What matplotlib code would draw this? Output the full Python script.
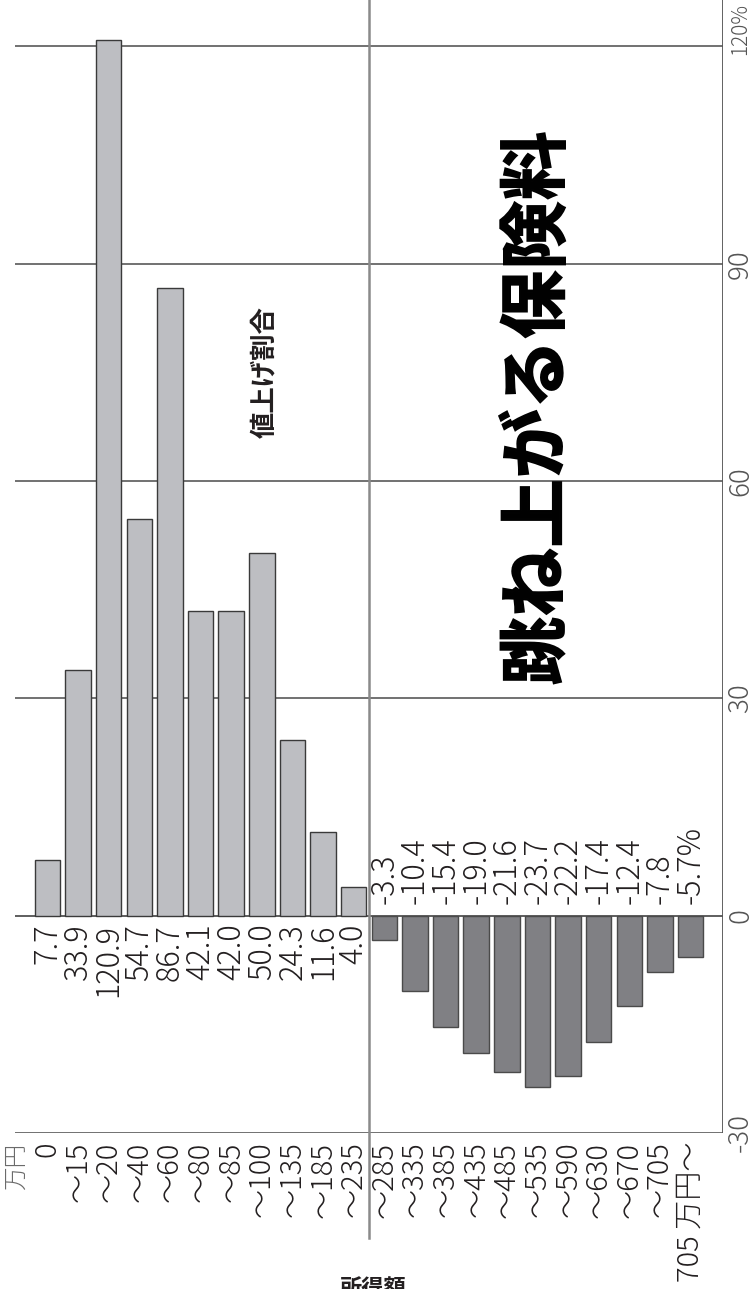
import matplotlib
matplotlib.use('Agg')
import matplotlib.pyplot as plt

plt.rcParams['font.family'] = ['Noto Sans CJK JP', 'DejaVu Sans']

# income brackets (万円) and change in premium (%)
categories = ['0', '〜15', '〜20', '〜40', '〜60', '〜80', '〜85', '〜100', '〜135', '〜185', '〜235',
              '〜285', '〜335', '〜385', '〜435', '〜485', '〜535', '〜590', '〜630', '〜670', '〜705',
              '705 万円〜']
values = [7.7, 33.9, 120.9, 54.7, 86.7, 42.1, 42.0, 50.0, 24.3, 11.6, 4.0,
          -3.3, -10.4, -15.4, -19.0, -21.6, -23.7, -22.2, -17.4, -12.4, -7.8, -5.7]
value_ticks = [-30, 0, 30, 60, 90, 120]
tick_labels = ['-30', '0', '30', '60', '90', '120%']

fig = plt.figure(figsize=(7.56, 12.89), dpi=100)
ax = fig.add_axes([15 / 756, 156 / 1289, 708 / 756, 1133 / 1289])
ax.set_xlim(-1.06, 22.06)
ax.set_ylim(-30, 126.4)
ax.axis('off')

ink = '#231f20'

# grid lines (horizontal in the picture)
for v in value_ticks:
    ax.axhline(v, color='#4a4a4a' if v != 0 else '#333333', lw=1.1, zorder=1)
# right frame and middle divider
ax.axvline(22.06, color='#555555', lw=1.3, zorder=1)
ax.plot([10.5, 10.5], [126.4, -44.5], color='#8a8a8a', lw=1.8, clip_on=False, zorder=3)

# bars
for i, v in enumerate(values):
    if v >= 0:
        ax.bar(i, v, width=0.83, color='#bdbec2', edgecolor='#3a3a3a', lw=1.0, zorder=2)
    else:
        ax.bar(i, v, width=0.83, color='#808084', edgecolor='#4a4a4a', lw=1.0, zorder=2)

# value labels
for i, v in enumerate(values):
    txt = '%.1f' % v
    if i == len(values) - 1:
        txt += '%'
    if v >= 0:
        ax.text(i, -1.1, txt, rotation=90, rotation_mode='anchor', ha='right', va='center',
                fontsize=22, color=ink, fontweight='light')
    else:
        ax.text(i, 1.6, txt, rotation=90, rotation_mode='anchor', ha='left', va='center',
                fontsize=22, color=ink, fontweight='light')

# category labels under the frame
for i, c in enumerate(categories):
    ax.text(i, -31.2, c, rotation=90, rotation_mode='anchor', ha='right', va='center',
            fontsize=21, color=ink, fontweight='light', clip_on=False)
ax.text(-1.02, -31.2, '万円', rotation=90, rotation_mode='anchor', ha='right', va='center',
        fontsize=17, color='#6a6a6a', fontweight='light', clip_on=False)

# value axis labels on the right
for v, t in zip(value_ticks, tick_labels):
    if t.endswith('%'):
        ax.text(22.62, v - 1.2, t, rotation=90, rotation_mode='anchor', ha='left', va='center',
                fontsize=15, color='#555555', fontweight='light', clip_on=False)
    else:
        ax.text(22.62, v, t, rotation=90, rotation_mode='anchor', ha='center', va='center',
                fontsize=20, color='#555555', fontweight='light', clip_on=False)

ax.text(7.1, 75.0, '値上げ割合', rotation=90, ha='center', va='center',
        fontsize=19, color=ink, fontweight='bold')
ax.text(16.0, 70.3, '跳ね上がる保険料', rotation=90, ha='center', va='center',
        fontsize=50, color='black', fontweight='heavy')

fig.text(373 / 756, 11 / 1289, '所得額', ha='center', va='top', fontsize=16,
         fontweight='bold', color=ink)

fig.savefig('out.png', dpi=100)
